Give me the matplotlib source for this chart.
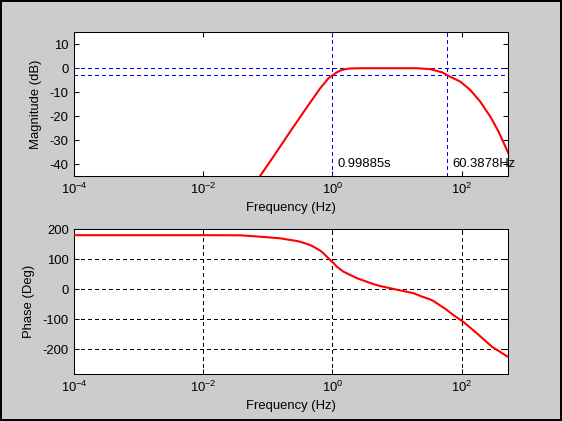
import matplotlib
matplotlib.use("Agg")
import matplotlib.pyplot as plt
from matplotlib.ticker import NullLocator

plt.rcParams['font.family'] = ['Liberation Sans', 'DejaVu Sans']
plt.rcParams['font.size'] = 9.4
plt.rcParams['axes.unicode_minus'] = False
plt.rcParams['mathtext.default'] = 'regular'

# values
mag_freq = [0.0757, 0.1216, 0.2208, 0.4009, 0.6442, 0.867, 0.99885, 1.17, 1.315, 1.57,
            1.879, 2.82, 20.4, 32.7, 49.7, 60.39, 95.5, 136.5, 195.0, 278.6, 375.0, 530.0]
mag_db = [-45.0, -36.9, -26.5, -16.3, -8.4, -4.2, -3.0, -1.7, -1.0, -0.4,
          -0.1, 0.0, 0.0, -0.4, -1.7, -3.0, -5.6, -9.1, -14.0, -20.2, -26.5, -35.5]

phase_freq = [1e-4, 0.01, 0.0372, 0.0759, 0.155, 0.282, 0.315, 0.447, 0.507, 0.646,
              0.724, 0.871, 0.92, 1.047, 1.17, 1.479, 1.67, 2.40, 2.69, 4.37,
              5.50, 8.91, 11.2, 18.2, 22.9, 33.1, 36.8, 46.8, 52.6, 59.4,
              75.9, 104.7, 173.8, 295.0, 525.0]
phase_deg = [180.5, 180.5, 180, 175.5, 170, 161, 158.7, 148, 142, 129,
             120, 103, 97.7, 87, 75.3, 59, 53.3, 37, 33.3, 17,
             11, 1, -3.3, -13, -22, -34, -39, -54, -61, -69,
             -87, -107, -147, -191, -225]

f_low = 0.99885
f_high = 60.3878
ref_db = [0, -3]

xticks = [1e-4, 1e-2, 1e0, 1e2]
mag_yticks = [-40, -30, -20, -10, 0, 10]
phase_yticks = [-200, -100, 0, 100, 200]

fig = plt.figure(figsize=(5.62, 4.21), dpi=100)
fig.patch.set_facecolor('#cccccc')
fig.patch.set_edgecolor('black')
fig.patch.set_linewidth(1.5)

ax1 = fig.add_axes([0.1322, 0.582, 0.7723, 0.3413])
ax2 = fig.add_axes([0.1322, 0.1116, 0.7723, 0.3437])

dash = (0, (3, 3))

for ax in (ax1, ax2):
    ax.set_xscale('log')
    ax.set_xlim(1e-4, 530)
    ax.set_xticks(xticks)
    ax.xaxis.set_minor_locator(NullLocator())
    ax.tick_params(direction='in', top=True, right=True, length=3.5,
                   width=0.75, pad=4, colors='black')
    for s in ax.spines.values():
        s.set_linewidth(0.75)
    ax.set_xlabel('Frequency (Hz)', labelpad=4)

# magnitude
ax1.plot(mag_freq, mag_db, color='red', lw=1.5, zorder=3)
for y in ref_db:
    ax1.axhline(y, color='blue', lw=0.72, ls=dash, antialiased=False, zorder=2)
ax1.axvline(f_low, color='blue', lw=0.72, ls=dash, antialiased=False, zorder=2)
ax1.axvline(f_high, color='blue', lw=0.72, ls=dash, antialiased=False, zorder=2)
ax1.set_ylim(-45, 15)
ax1.set_yticks(mag_yticks)
ax1.set_ylabel('Magnitude (dB)')
ax1.yaxis.set_label_coords(-0.0744, 0.5)
ax1.annotate('%gs' % f_low, (f_low, -40), xytext=(5, 0), textcoords='offset pixels',
             va='center', ha='left', annotation_clip=False)
ax1.annotate('%gHz' % f_high, (f_high, -40), xytext=(5, 0), textcoords='offset pixels',
             va='center', ha='left', annotation_clip=False)

# phase
ax2.plot(phase_freq, phase_deg, color='red', lw=1.5, zorder=3)
ax2.set_ylim(-282, 200)
ax2.set_yticks(phase_yticks)
ax2.grid(True, which='major', color='black', lw=0.72, ls=dash, antialiased=False)
ax2.set_ylabel('Phase (Deg)')
ax2.yaxis.set_label_coords(-0.0894, 0.5)

fig.savefig('out.png', dpi=100)
